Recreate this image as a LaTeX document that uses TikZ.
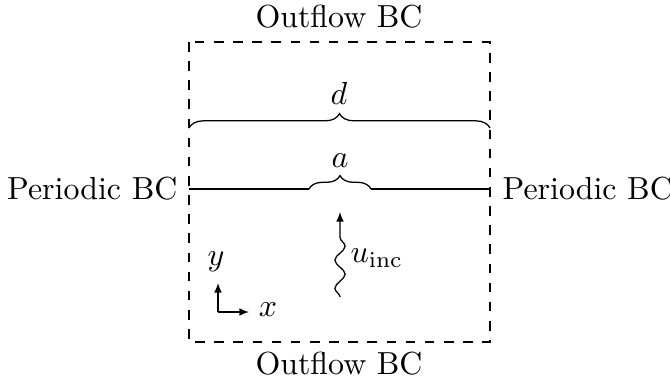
\documentclass[tikz,border=0pt]{standalone}
\usetikzlibrary{decorations.pathreplacing,decorations.pathmorphing,arrows.meta}
\begin{document}
\begin{tikzpicture}[x=0.3135pt,y=-0.3135pt,
  lbl/.style={inner sep=0pt},
  bracestyle/.style={decorate,decoration={brace,amplitude=#1}},
  axis/.style={-{Latex[length=3pt,width=2.4pt]}}]
\useasboundingbox (0,0) rectangle (670,381);
% domain box
\coordinate (tl) at (189,42);
\coordinate (br) at (490,342);
\draw[dashed] (tl) rectangle (br);
% labels
\node[lbl] (top) at (339,17) {Outflow BC};
\node[lbl] (bot) at (339,364) {Outflow BC};
\node[lbl,anchor=east] (pl) at (178,189) {Periodic BC};
\node[lbl,anchor=west] (pr) at (502,189) {Periodic BC};
% interface line with gap
\coordinate (l0) at (189,189);
\coordinate (l1) at (309,189);
\coordinate (l2) at (371,189);
\coordinate (l3) at (490,189);
\draw (l0) -- (l1);
\draw (l2) -- (l3);
\draw[bracestyle=4.2pt] (l1) -- (l2);
\node[lbl] (a) at (340,161) {$a$};
% big brace
\coordinate (d0) at (189,128);
\coordinate (d1) at (490,128);
\draw[bracestyle=4.5pt] (d0) -- (d1);
\node[lbl] (d) at (339,93) {$d$};
% incident wave
\coordinate (w0) at (340,297);
\coordinate (w1) at (340,212);
\draw[-{Latex[length=3pt,width=2.4pt]},decorate,decoration={snake,amplitude=1.6pt,segment length=8.8pt,post length=4pt}] (w0) -- (w1);
\node[lbl,anchor=west] (u) at (350,258) {$u_{\mathrm{inc}}$};
% axes
\coordinate (o) at (218,312);
\coordinate (ox) at (249,312);
\coordinate (oy) at (218,283);
\draw[axis] (o) -- (ox);
\draw[axis] (o) -- (oy);
\node[lbl] (x) at (268,310) {$x$};
\node[lbl] (y) at (216,262) {$y$};
\end{tikzpicture}
\end{document}
